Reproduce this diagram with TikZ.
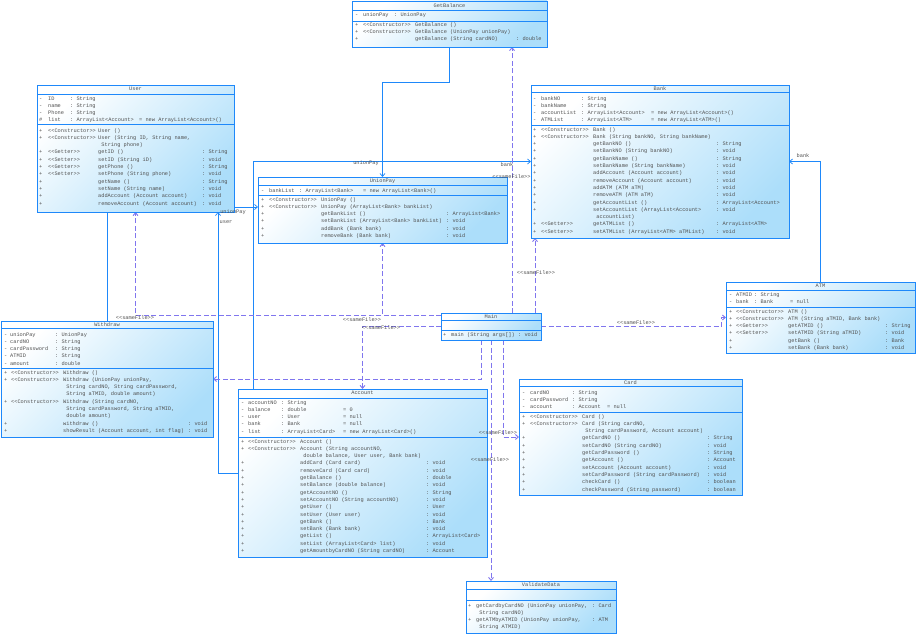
\documentclass[tikz,border=0pt]{standalone}
\usepackage{fontspec}
\setmonofont{Liberation Mono}
\usetikzlibrary{arrows.meta,backgrounds}
\definecolor{umlblue}{RGB}{30,136,250}
\definecolor{umlfill}{RGB}{172,222,250}
\definecolor{umltext}{RGB}{80,80,80}
\definecolor{umldash}{RGB}{128,118,238}
\setlength\tabcolsep{0pt}
\newcommand\umlfont{\ttfamily\fontsize{5.3}{7.3}\selectfont}
\newcommand\members[2]{\begin{tabular}{#1}#2\end{tabular}}
\newcommand\sepline[2]{\draw[umlline] ([yshift=-#2pt]#1.north west) -- ([yshift=-#2pt]#1.north east);}
\newcommand\ind{\hspace*{3.2pt}}

\tikzset{
  umlbox/.style={draw=umlblue, line width=0.8pt, top color=white, bottom color=umlfill,
    shading angle=45, anchor=north west, inner sep=0pt, outer sep=0pt},
  umlline/.style={draw=umlblue, line width=0.8pt},
  title/.style={inner sep=0pt, font=\umlfont, text=umltext},
  sect/.style={anchor=north west, inner sep=0pt, font=\umlfont, text=umltext},
  role/.style={inner sep=0pt, font=\umlfont, text=umltext},
  assoc/.style={draw=umlblue, line width=0.7pt, -{Straight Barb[length=3pt,width=5pt]}},
  dep/.style={draw=umldash, line width=0.9pt, dash pattern=on 5pt off 2.5pt,
    -{Straight Barb[length=3pt,width=5pt]}},
}

\begin{document}
\begin{tikzpicture}[x=1pt,y=-1pt]
\useasboundingbox (0,0) rectangle (917,634);

% GetBalance
\node[umlbox, minimum width=195pt, minimum height=46pt] (getbalance) at (352,1) {};
\node[title] (getbalance-title) at (449.5,5.5) {GetBalance};
\sepline{getbalance}{9}
\sepline{getbalance}{20}
\node[sect] (getbalance-attr) at (355,10.8) {\members{p{8pt}p{31pt}l}{- & unionPay & : UnionPay}};
\node[sect] (getbalance-ops) at (355,20.8) {\members{p{8pt}p{52pt}p{101pt}l}{
+ & <<Constructor>> & GetBalance () & \\
+ & <<Constructor>> & GetBalance (UnionPay unionPay) & \\
+ & & getBalance (String cardNO) & : double}};

% User
\node[umlbox, minimum width=197pt, minimum height=127pt] (user) at (37,85) {};
\node[title] (user-title) at (135.5,89) {User};
\sepline{user}{9}
\sepline{user}{39}
\node[sect] (user-attr) at (39,94.7) {\members{p{9pt}p{22pt}p{69pt}l}{
- & ID & : String & \\
- & name & : String & \\
- & Phone & : String & \\
\# & list & : ArrayList<Account> & = new ArrayList<Account>()}};
\node[sect] (user-ops) at (39,126.7) {\members{p{9pt}p{50pt}p{104pt}l}{
+ & <<Constructor>> & User () & \\
+ & <<Constructor>> & User (String ID, String name, & \\
 & & \ind String phone) & \\
+ & <<Getter>> & getID () & : String \\
+ & <<Setter>> & setID (String iD) & : void \\
+ & <<Getter>> & getPhone () & : String \\
+ & <<Setter>> & setPhone (String phone) & : void \\
+ & & getName () & : String \\
+ & & setName (String name) & : void \\
+ & & addAccount (Account account) & : void \\
+ & & removeAccount (Account account) & : void}};

% Bank
\node[umlbox, minimum width=258pt, minimum height=153pt] (bank) at (531,85) {};
\node[title] (bank-title) at (660,88.5) {Bank};
\sepline{bank}{7}
\sepline{bank}{40}
\node[sect] (bank-attr) at (533,94.7) {\members{p{8pt}p{40pt}p{70pt}l}{
- & bankNO & : String & \\
- & bankName & : String & \\
- & accountList & : ArrayList<Account> & = new ArrayList<Account>() \\
- & ATMList & : ArrayList<ATM> & = new ArrayList<ATM>()}};
\node[sect] (bank-ops) at (533,125.7) {\members{p{8pt}p{52pt}p{123pt}l}{
+ & <<Constructor>> & Bank () & \\
+ & <<Constructor>> & Bank (String bankNO, String bankName) & \\
+ & & getBankNO () & : String \\
+ & & setBankNO (String bankNO) & : void \\
+ & & getBankName () & : String \\
+ & & setBankName (String bankName) & : void \\
+ & & addAccount (Account account) & : void \\
+ & & removeAccount (Account account) & : void \\
+ & & addATM (ATM aTM) & : void \\
+ & & removeATM (ATM aTM) & : void \\
+ & & getAccountList () & : ArrayList<Account> \\
+ & & setAccountList (ArrayList<Account> & : void \\
 & & \ind accountList) & \\
+ & <<Getter>> & getATMList () & : ArrayList<ATM> \\
+ & <<Setter>> & setATMList (ArrayList<ATM> aTMList) & : void}};

% UnionPay
\node[umlbox, minimum width=249pt, minimum height=66pt] (unionpay) at (258,177) {};
\node[title] (unionpay-title) at (382.5,181) {UnionPay};
\sepline{unionpay}{8}
\sepline{unionpay}{18}
\node[sect] (unionpay-attr) at (261,186.7) {\members{p{8pt}p{30pt}p{64pt}l}{
- & bankList & : ArrayList<Bank> & = new ArrayList<Bank>()}};
\node[sect] (unionpay-ops) at (261,195.7) {\members{p{8pt}p{52pt}p{125pt}l}{
+ & <<Constructor>> & UnionPay () & \\
+ & <<Constructor>> & UnionPay (ArrayList<Bank> bankList) & \\
+ & & getBankList () & : ArrayList<Bank> \\
+ & & setBankList (ArrayList<Bank> bankList) & : void \\
+ & & addBank (Bank bank) & : void \\
+ & & removeBank (Bank bank) & : void}};

% Withdraw
\node[umlbox, minimum width=212pt, minimum height=116pt] (withdraw) at (1,321) {};
\node[title] (withdraw-title) at (107,324.5) {Withdraw};
\sepline{withdraw}{7}
\sepline{withdraw}{47}
\node[sect] (withdraw-attr) at (4,330.7) {\members{p{6pt}p{45pt}l}{
- & unionPay & : UnionPay \\
- & cardNO & : String \\
- & cardPassword & : String \\
- & ATMID & : String \\
- & amount & : double}};
\node[sect] (withdraw-ops) at (4,368.7) {\members{p{7pt}p{52pt}p{125pt}l}{
+ & <<Constructor>> & Withdraw () & \\
+ & <<Constructor>> & Withdraw (UnionPay unionPay, & \\
 & & \ind String cardNO, String cardPassword, & \\
 & & \ind String aTMID, double amount) & \\
+ & <<Constructor>> & Withdraw (String cardNO, & \\
 & & \ind String cardPassword, String aTMID, & \\
 & & \ind double amount) & \\
+ & & withdraw () & : void \\
+ & & showResult (Account account, int flag) & : void}};

% Main
\node[umlbox, minimum width=100pt, minimum height=27pt] (mainclass) at (441,313) {};
\node[title] (mainclass-title) at (491,316.5) {Main};
\sepline{mainclass}{7}
\sepline{mainclass}{17}
\node[sect] (mainclass-ops) at (443,330.7) {\members{p{8pt}p{67pt}l}{
+ & main (String args[]) & : void}};

% ATM
\node[umlbox, minimum width=189pt, minimum height=71pt] (atm) at (726,282) {};
\node[title] (atm-title) at (820.5,285.5) {ATM};
\sepline{atm}{8}
\sepline{atm}{25}
\node[sect] (atm-attr) at (729,290.7) {\members{p{7pt}p{18pt}p{36pt}l}{
- & ATMID & : String & \\
- & bank & : Bank & = null}};
\node[sect] (atm-ops) at (729,307.7) {\members{p{7pt}p{52pt}p{97pt}l}{
+ & <<Constructor>> & ATM () & \\
+ & <<Constructor>> & ATM (String aTMID, Bank bank) & \\
+ & <<Getter>> & getATMID () & : String \\
+ & <<Setter>> & setATMID (String aTMID) & : void \\
+ & & getBank () & : Bank \\
+ & & setBank (Bank bank) & : void}};

% Account
\node[umlbox, minimum width=249pt, minimum height=168pt] (account) at (238,389) {};
\node[title] (account-title) at (362.5,392.5) {Account};
\sepline{account}{9}
\sepline{account}{48}
\node[sect] (account-attr) at (241,398.7) {\members{p{7pt}p{33pt}p{62pt}l}{
- & accountNO & : String & \\
- & balance & : double & = 0 \\
- & user & : User & = null \\
- & bank & : Bank & = null \\
- & list & : ArrayList<Card> & = new ArrayList<Card>()}};
\node[sect] (account-ops) at (241,437.7) {\members{p{7pt}p{52pt}p{126pt}l}{
+ & <<Constructor>> & Account () & \\
+ & <<Constructor>> & Account (String accountNO, & \\
 & & \ind double balance, User user, Bank bank) & \\
+ & & addCard (Card card) & : void \\
+ & & removeCard (Card card) & : void \\
+ & & getBalance () & : double \\
+ & & setBalance (double balance) & : void \\
+ & & getAccountNO () & : String \\
+ & & setAccountNO (String accountNO) & : void \\
+ & & getUser () & : User \\
+ & & setUser (User user) & : void \\
+ & & getBank () & : Bank \\
+ & & setBank (Bank bank) & : void \\
+ & & getList () & : ArrayList<Card> \\
+ & & setList (ArrayList<Card> list) & : void \\
+ & & getAmountbyCardNO (String cardNO) & : Account}};

% Card
\node[umlbox, minimum width=223pt, minimum height=116pt] (card) at (519,379) {};
\node[title] (card-title) at (630.5,382.5) {Card};
\sepline{card}{7}
\sepline{card}{33}
\node[sect] (card-attr) at (522,388.7) {\members{p{8pt}p{42pt}p{35pt}l}{
- & cardNO & : String & \\
- & cardPassword & : String & \\
- & account & : Account & = null}};
\node[sect] (card-ops) at (522,412.7) {\members{p{8pt}p{52pt}p{125pt}l}{
+ & <<Constructor>> & Card () & \\
+ & <<Constructor>> & Card (String cardNO, & \\
 & & \ind String cardPassword, Account account) & \\
+ & & getCardNO () & : String \\
+ & & setCardNO (String cardNO) & : void \\
+ & & getCardPassword () & : String \\
+ & & getAccount () & : Account \\
+ & & setAccount (Account account) & : void \\
+ & & setCardPassword (String cardPassword) & : void \\
+ & & checkCard () & : boolean \\
+ & & checkPassword (String password) & : boolean}};

% ValidateData
\node[umlbox, minimum width=150pt, minimum height=52pt] (validate) at (466,581) {};
\node[title] (validate-title) at (541,585) {ValidateData};
\sepline{validate}{8}
\sepline{validate}{19}
\node[sect] (validate-ops) at (468,601.7) {\members{p{8pt}p{116pt}l}{
+ & getCardbyCardNO (UnionPay unionPay, & : Card \\
 & \ind String cardNO) & \\
+ & getATMbyATMID (UnionPay unionPay, & : ATM \\
 & \ind String ATMID) & }};

% connector ends
\coordinate (m-gb) at ([xshift=21pt]mainclass.north);
\coordinate (m-bk) at ([xshift=44pt]mainclass.north);
\coordinate (m-up) at ([yshift=-2pt]mainclass.north west);
\coordinate (m-wd) at ([xshift=-10pt]mainclass.south);
\coordinate (m-cd) at ([xshift=12pt]mainclass.south);
\coordinate (ac-up) at ([xshift=15pt]account.north west);
\coordinate (us-ac) at ([xshift=181pt]user.south west);
\coordinate (up-wd) at ([yshift=3pt]unionpay.west);

\begin{pgfonlayer}{background}
\fill[white] (0,0) rectangle (917,634);
% associations
\draw[assoc] (getbalance.south) -- ++(0,35) -| (unionpay.north);
\draw[assoc] (ac-up) |- (bank.west);
\draw[assoc] (atm.north) |- (bank.east);
\draw[assoc] (account.west) -| (us-ac);
\draw[assoc] (withdraw.north) |- (up-wd);
% sameFile dependencies
\draw[dep] (m-gb) -- (m-gb |- getbalance.south);
\draw[dep] (m-bk) -- (m-bk |- bank.south);
\draw[dep] (m-up) -| (unionpay.south);
\draw[dep] (m-up) -| (user.south);
\draw[dep] (mainclass.west) -| (account.north);
\draw[dep] (mainclass.east) -- ++(180,0) |- (atm.west);
\draw[dep] (m-wd) |- (withdraw.east);
\draw[dep] (m-cd) |- (card.west);
\draw[dep] (mainclass.south) -- (mainclass.south |- validate.north);
\end{pgfonlayer}

% role labels
\node[role] (lbl-gb) at (366,163) {unionPay};
\node[role] (lbl-ab) at (507,165) {bank};
\node[role] (lbl-tb) at (803,156) {bank};
\node[role] (lbl-au) at (226,222) {user};
\node[role] (lbl-wu) at (233,212) {unionPay};
\node[role] (lbl-d1) at (511.5,177) {<<sameFile>>};
\node[role] (lbl-d2) at (536,273) {<<sameFile>>};
\node[role] (lbl-d3) at (362,320) {<<sameFile>>};
\node[role] (lbl-d4) at (135,318) {<<sameFile>>};
\node[role] (lbl-d5) at (381,328) {<<sameFile>>};
\node[role] (lbl-d6) at (636,323) {<<sameFile>>};
\node[role] (lbl-d7) at (498,433) {<<sameFile>>};
\node[role] (lbl-d8) at (490,460) {<<sameFile>>};

\end{tikzpicture}
\end{document}
